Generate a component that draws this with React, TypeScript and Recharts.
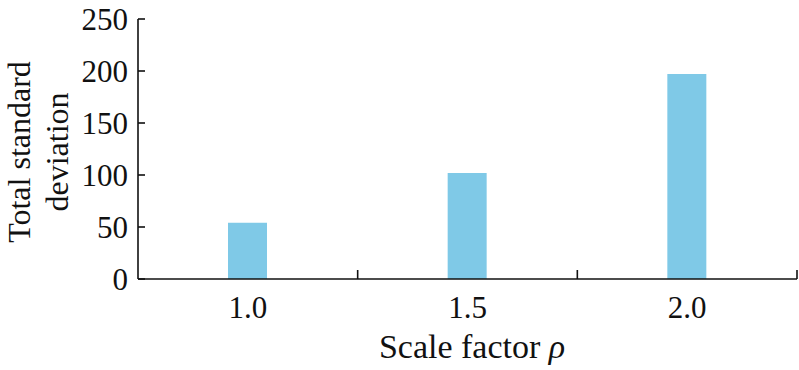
import React from "react";
import { BarChart, Bar, XAxis, YAxis, Label } from "recharts";

const categories = ["1.0", "1.5", "2.0"];
const deviation = [54, 102, 197];
const yTicks = [0, 50, 100, 150, 200, 250];

const data = categories.map((c, i) => ({ rho: c, value: deviation[i] }));

const FONT = "'Liberation Serif', 'Times New Roman', serif";
const INK = "#111";
const CHART_W = 799;
const LEFT = 138;
const RIGHT = 2;
const BAND = (CHART_W - LEFT - RIGHT) / categories.length;

// y tick: label outside, short tick mark pointing into the plot
function YTick(props: any) {
  const { x, y, payload } = props;
  return (
    <g>
      <text x={x} y={y} dy="0.355em" textAnchor="end" fontFamily={FONT} fontSize={31} fill={INK}>
        {payload.value}
      </text>
      <line x1={x + 10} x2={x + 17} y1={y} y2={y} stroke={INK} strokeWidth={1.6} />
    </g>
  );
}

// x tick: label under the bar, tick mark at the right edge of each category, pointing up
function XTick(props: any) {
  const { x, y, payload } = props;
  const axisY = y - 17;
  return (
    <g>
      <text x={x} y={y} dy="0.71em" textAnchor="middle" fontFamily={FONT} fontSize={31} fill={INK}>
        {payload.value}
      </text>
      <line x1={x + BAND / 2} x2={x + BAND / 2} y1={axisY} y2={axisY - 9} stroke={INK} strokeWidth={1.6} />
    </g>
  );
}

function YTitle() {
  return (
    <text transform="translate(0,152) rotate(-90)" textAnchor="middle" fontFamily={FONT} fontSize={32} fill={INK}>
      <tspan x={0} y={30}>Total standard</tspan>
      <tspan x={0} y={68}>deviation</tspan>
    </text>
  );
}

function XTitle() {
  return (
    <text x={472} y={358} textAnchor="middle" fontFamily={FONT} fontSize={34} fill={INK}>
      Scale factor <tspan fontStyle="italic">ρ</tspan>
    </text>
  );
}

export default function App() {
  return (
    <div style={{ position: "absolute", left: 0, top: 0, width: 799, height: 370, background: "#fff" }}>
      <BarChart width={CHART_W} height={370} data={data} margin={{ top: 19, right: RIGHT, bottom: 0, left: 0 }}>
        <XAxis
          dataKey="rho"
          height={91}
          tickLine={false}
          tickSize={0}
          tickMargin={17}
          axisLine={{ stroke: INK, strokeWidth: 1.6 }}
          tick={<XTick />}
        >
          <Label content={<XTitle />} />
        </XAxis>
        <YAxis
          width={LEFT}
          domain={[0, 250]}
          ticks={yTicks}
          tickLine={false}
          tickSize={0}
          tickMargin={10}
          axisLine={{ stroke: INK, strokeWidth: 1.6 }}
          tick={<YTick />}
        >
          <Label content={<YTitle />} />
        </YAxis>
        <Bar dataKey="value" fill="#7FC9E7" barSize={39} isAnimationActive={false} />
      </BarChart>
    </div>
  );
}
